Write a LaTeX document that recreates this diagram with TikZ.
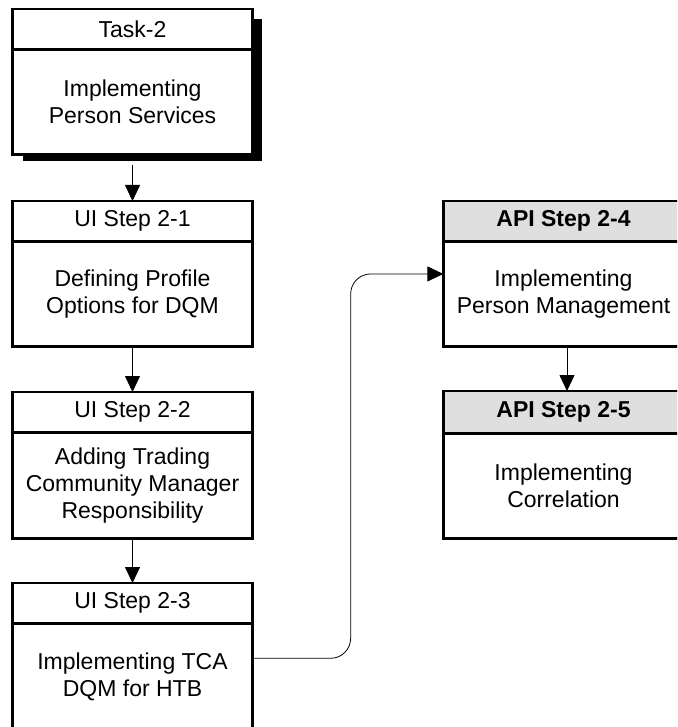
\documentclass[tikz,border=0pt]{standalone}
\usepackage{fontspec}
\setmainfont{Liberation Sans}
\usetikzlibrary{arrows.meta}
\newcommand{\boxfont}{\fontsize{23}{27}\selectfont}
\tikzset{
  hdr/.style={rectangle, draw, line width=1.3pt, fill=white, minimum width=239pt,
    minimum height=39pt, inner sep=0pt, anchor=north, font=\boxfont},
  apihdr/.style={hdr, fill=gray!25, font=\boxfont\bfseries},
  bdy/.style={rectangle, draw, line width=1.3pt, fill=white, minimum width=239pt,
    minimum height=104pt, inner sep=0pt, align=center, anchor=north, font=\boxfont},
  frame/.style={draw, line width=2.6pt},
  conn/.style={line width=0.8pt, -{Triangle[length=16pt,width=15pt]}},
}
\begin{document}
\begin{tikzpicture}[x=1pt, y=-1pt]
\useasboundingbox (0,0) rectangle (677,727);
\clip (0,0) rectangle (677,727);

% Task-2, with its drop shadow
\fill[black] (23,19) rectangle (262,161);
\node[hdr] (h0) at (132.5,9) {Task-2};
\node[bdy] (b0) at (h0.south) {Implementing\\Person Services};
\draw[frame] (h0.north west) rectangle (b0.south east);

% UI steps
\node[hdr] (h1) at (132.5,201) {UI Step 2-1};
\node[bdy] (b1) at (h1.south) {Defining Profile\\Options for DQM};
\draw[frame] (h1.north west) rectangle (b1.south east);

\node[hdr] (h2) at (132.5,392) {UI Step 2-2};
\node[bdy, minimum height=105pt] (b2) at (h2.south) {Adding Trading\\Community Manager\\Responsibility};
\draw[frame] (h2.north west) rectangle (b2.south east);

\node[hdr] (h3) at (132.5,583) {UI Step 2-3};
\node[bdy, minimum height=106pt] (b3) at (h3.south) {Implementing TCA\\DQM for HTB};
\draw[frame] (h3.north west) rectangle (b3.south east);

% API steps
\node[apihdr] (h4) at (563.5,201) {API Step 2-4};
\node[bdy] (b4) at (h4.south) {Implementing\\Person Management};
\draw[frame] (h4.north west) rectangle (b4.south east);

\node[apihdr, minimum height=41pt] (h5) at (563.5,391) {API Step 2-5};
\node[bdy] (b5) at (h5.south) {Implementing\\Correlation};
\draw[frame] (h5.north west) rectangle (b5.south east);

% connectors
\draw[conn] ([yshift=-10pt]b0.south) -- (h1.north);
\draw[conn] (b1.south) -- (h2.north);
\draw[conn] (b2.south) -- (h3.north);
\draw[conn] ([xshift=3.5pt]b4.south) -- ([xshift=3.5pt]h5.north);

\coordinate (src) at ([yshift=-35pt]b3.north east);
\coordinate (dst) at ([yshift=20pt]b4.west);
\draw[conn, rounded corners=20pt] (src) -- ++(98,0) |- (dst);
\end{tikzpicture}
\end{document}
